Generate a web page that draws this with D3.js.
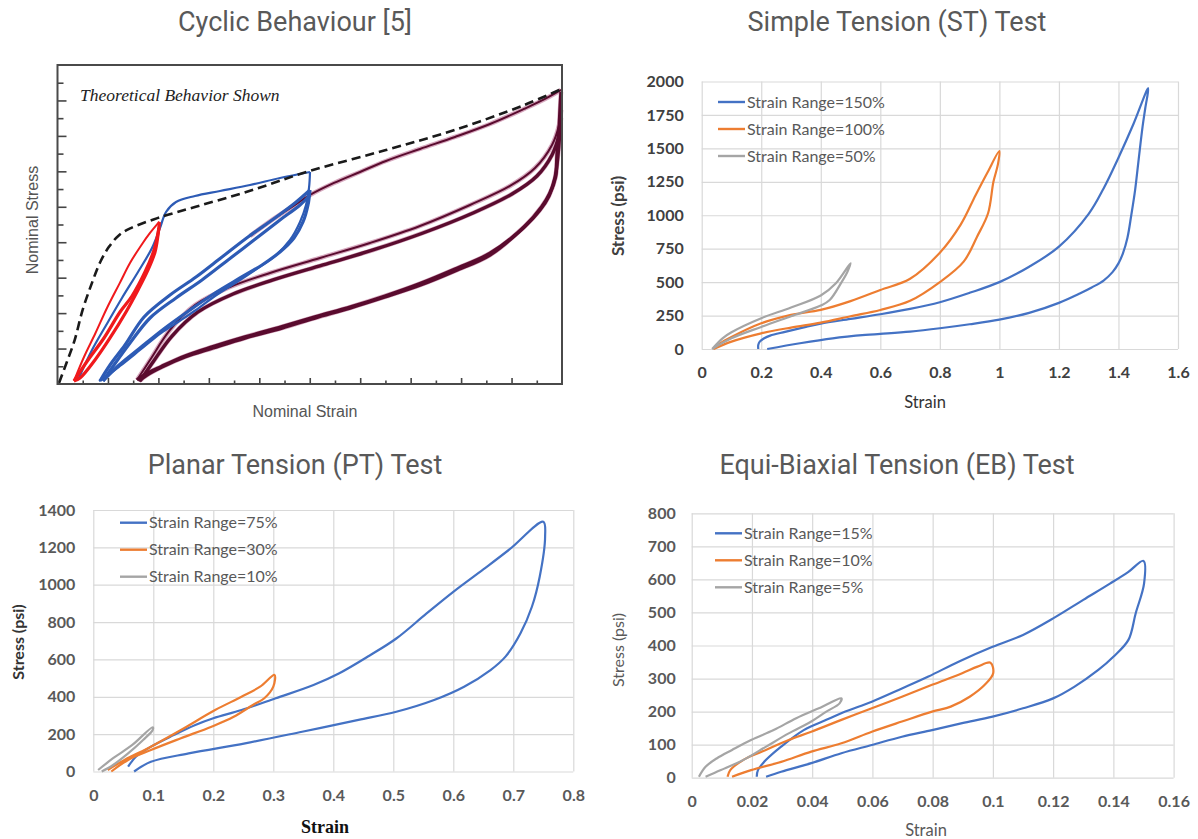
<!DOCTYPE html>
<html>
<head>
<meta charset="utf-8">
<script src="https://cdn.jsdelivr.net/npm/d3@7"></script>
<style>
  body { margin: 0; background: #fff; }
  svg { display: block; }
</style>
</head>
<body>
<svg id="fig" width="1198" height="839"></svg>
<script>
// ---------- panel titles ----------
const panelTitles = ["Cyclic Behaviour [5]", "Simple Tension (ST) Test", "Planar Tension (PT) Test", "Equi-Biaxial Tension (EB) Test"];

// ---------- cyclic behaviour sketch (arbitrary units: x 0-10, y 0-9) ----------
const cyMajorX = [1, 2, 3, 4, 5, 6, 7, 8, 9];
const cyMinorX = [0.5, 1.5, 2.5, 3.5, 4.5, 5.5, 6.5, 7.5, 8.5, 9.5];
const cyMajorY = [1, 2, 3, 4, 5, 6, 7, 8];
const cyMinorY = [0.5, 1.5, 2.5, 3.5, 4.5, 5.5, 6.5, 7.5, 8.5];

const cyEnvelope = [[0.03,0.03],[0.18,0.6],[0.34,1.24],[0.5,2.1],[0.68,2.84],[0.85,3.45],[1.02,3.87],[1.22,4.2],[1.44,4.39],[1.98,4.68],[2.74,5.0],[3.77,5.43],[5.0,6.01],[6.51,6.6],[7.88,7.17],[9.25,7.87],[10.0,8.33]];

const cyRedFirst = [[0.327,0.085],[0.525,0.762],[0.751,1.431],[0.981,2.144],[1.231,2.84],[1.437,3.414],[1.641,3.874],[1.834,4.261],[2.02,4.58]];
const cyRedUnload = [[2.02,4.571],[1.992,4.204],[1.933,3.725],[1.794,3.217],[1.596,2.652],[1.358,2.032],[1.041,1.298],[0.743,0.677],[0.446,0.169],[0.327,0.085]];
const cyRedReload = [[0.327,0.085],[0.605,0.677],[0.922,1.298],[1.239,2.032],[1.477,2.483],[1.734,3.16],[1.913,3.781],[2.012,4.402]];

const cyBlueFirst = [[0.406,0.113],[0.684,0.959],[1.001,1.749],[1.278,2.427],[1.596,3.16],[1.873,3.837],[2.032,4.402],[2.151,4.853],[2.349,5.135],[2.725,5.305],[3.221,5.446],[3.816,5.615],[4.41,5.813],[5.005,5.982]];
const cyBlueUnload = [[5.005,5.982],[4.985,5.53],[4.926,5.051],[4.807,4.571],[4.609,4.063],[4.311,3.612],[3.915,3.217],[3.617,2.935],[3.122,2.483],[2.745,2.088],[2.388,1.749],[2.052,1.439],[1.635,0.959],[1.239,0.508],[0.922,0.169],[0.823,0.085]];
const cyBlueReload = [[0.842,0.085],[1.041,0.536],[1.338,1.1],[1.715,1.891],[2.23,2.511],[2.745,3.019],[3.261,3.584],[3.776,4.148],[4.311,4.684],[4.707,5.107],[5.005,5.474]];
const cyBlueUnload2 = [[5.005,5.474],[4.965,5.051],[4.866,4.571],[4.688,4.12],[4.41,3.725],[4.054,3.358],[3.617,2.991],[3.122,2.568],[2.626,2.088],[2.131,1.58],[1.635,1.016],[1.199,0.508],[0.902,0.085]];
const cyBlueReload2 = [[0.902,0.085],[1.12,0.536],[1.437,1.157],[1.834,1.862],[2.349,2.427],[2.864,2.935],[3.38,3.499],[3.895,4.063],[4.41,4.628],[4.807,5.051],[5.005,5.333]];

const cyMaroonFirst = [[3.816,4.176],[4.311,4.684],[4.707,5.051],[5.005,5.333],[5.481,5.672],[5.996,5.982],[6.511,6.292],[7.185,6.631],[7.879,6.97],[8.573,7.336],[9.247,7.76],[9.663,8.042],[9.98,8.296]];
const cyMaroonUnload = [[9.98,8.24],[9.96,7.731],[9.941,7.167],[9.901,6.462],[9.873,5.849],[9.762,5.389],[9.598,5.003],[9.255,4.438],[8.573,3.688],[7.879,3.245],[7.197,2.841],[6.492,2.483],[5.826,2.181],[5.104,1.891],[4.45,1.617],[3.717,1.326],[3.082,1.052],[2.527,0.79],[2.052,0.488],[1.754,0.282],[1.576,0.113]];
const cyMaroonReload = [[1.576,0.113],[1.834,0.677],[2.23,1.524],[2.725,2.229],[3.419,2.737],[4.212,3.132],[5.203,3.555],[6.194,3.979],[7.185,4.458],[8.176,5.051],[8.969,5.587],[9.465,6.095],[9.802,6.744],[9.941,7.308],[9.98,7.731]];
const cyMaroonUnload2 = [[9.98,7.731],[9.96,7.167],[9.921,6.462],[9.861,5.813],[9.742,5.305],[9.564,4.91],[9.207,4.374],[8.573,3.64],[7.879,3.189],[7.197,2.793],[6.492,2.455],[5.798,2.144],[5.104,1.862],[4.45,1.58],[3.717,1.298],[3.082,1.016],[2.527,0.762],[2.071,0.48],[1.774,0.254],[1.615,0.085]];
const cyMaroonReload2 = [[1.635,0.085],[1.893,0.621],[2.27,1.354],[2.785,2.032],[3.479,2.54],[4.272,2.935],[5.263,3.358],[6.254,3.781],[7.245,4.261],[8.236,4.825],[9.009,5.361],[9.504,5.869],[9.802,6.462],[9.941,7.026],[9.98,7.506]];

// ---------- Simple Tension (strain, psi) ----------
const stXTicks = [0, 0.2, 0.4, 0.6, 0.8, 1, 1.2, 1.4, 1.6];
const stYTicks = [0, 250, 500, 750, 1000, 1250, 1500, 1750, 2000];
const stNames = ["Strain Range=150%", "Strain Range=100%", "Strain Range=50%"];
const stRange150 = [[0.19,0],[0.19,30],[0.195,55],[0.21,80],[0.23,100],[0.28,128],[0.35,165],[0.4,190],[0.5,225],[0.6,260],[0.7,300],[0.8,350],[0.9,420],[1.0,500],[1.1,615],[1.2,765],[1.3,1010],[1.35,1200],[1.4,1430],[1.45,1680],[1.5,1950],
  [1.49,1800],[1.481,1662],[1.468,1420],[1.456,1190],[1.443,1000],[1.43,830],[1.415,715],[1.4,640],[1.38,575],[1.35,512],[1.31,460],[1.27,415],[1.2,345],[1.1,270],[1.0,220],[0.9,185],[0.8,155],[0.7,130],[0.6,113],[0.55,105],[0.44,80],[0.33,43],[0.22,0]];
const stRange100 = [[0.038,0],[0.06,40],[0.1,90],[0.2,192],[0.3,255],[0.4,292],[0.5,358],[0.6,441],[0.7,525],[0.8,720],[0.87,930],[0.92,1150],[0.96,1320],[1.0,1480],
  [0.995,1380],[0.98,1250],[0.962,1015],[0.925,840],[0.88,653],[0.8,500],[0.7,360],[0.6,292],[0.5,245],[0.4,197],[0.3,160],[0.2,117],[0.1,55],[0.04,0]];
const stRange50 = [[0.035,0],[0.07,80],[0.1,125],[0.2,230],[0.3,310],[0.4,400],[0.45,490],[0.5,641],
  [0.49,580],[0.47,500],[0.43,366],[0.4,325],[0.3,245],[0.2,165],[0.1,80],[0.035,0]];

// ---------- Planar Tension ----------
const ptXTicks = [0, 0.1, 0.2, 0.3, 0.4, 0.5, 0.6, 0.7, 0.8];
const ptYTicks = [0, 200, 400, 600, 800, 1000, 1200, 1400];
const ptNames = ["Strain Range=75%", "Strain Range=30%", "Strain Range=10%"];
const ptRange75 = [[0.058,26],[0.071,79],[0.096,133],[0.134,195],[0.17,249],[0.2,285],[0.247,329],[0.304,392],[0.367,463],[0.41,526],[0.46,620],[0.505,712],[0.555,845],[0.6,962],[0.65,1082],[0.694,1190],[0.75,1337],
  [0.753,1257],[0.744,1043],[0.731,882],[0.712,740],[0.687,615],[0.662,543],[0.618,454],[0.568,383],[0.505,320],[0.442,276],[0.348,213],[0.253,151],[0.159,97],[0.096,52],[0.068,0]];
const ptRange30 = [[0.024,8],[0.052,62],[0.096,133],[0.146,222],[0.203,329],[0.247,400],[0.278,454],[0.302,517],
  [0.3,454],[0.285,392],[0.266,356],[0.234,293],[0.197,240],[0.146,178],[0.096,115],[0.058,62],[0.03,0]];
const ptRange10 = [[0.008,8],[0.033,71],[0.065,142],[0.099,237],[0.099,222],[0.083,169],[0.058,97],[0.033,35],[0.014,0]];

// ---------- Equi-Biaxial Tension ----------
const ebXTicks = [0, 0.02, 0.04, 0.06, 0.08, 0.1, 0.12, 0.14, 0.16];
const ebYTicks = [0, 100, 200, 300, 400, 500, 600, 700, 800];
const ebNames = ["Strain Range=15%", "Strain Range=10%", "Strain Range=5%"];
const ebRange15 = [[0.0216,3],[0.022,23],[0.0247,54],[0.0297,94],[0.0372,144],[0.0447,175],[0.051,200],[0.0598,230],[0.0698,270],[0.0786,306],[0.0886,351],[0.0999,396],[0.11,432],[0.12,482],[0.13,538],[0.139,588],[0.145,623],[0.15,656],
  [0.1502,588],[0.1474,497],[0.145,417],[0.14,366],[0.135,326],[0.127,275],[0.12,240],[0.11,210],[0.0999,185],[0.0898,165],[0.0798,144],[0.0698,124],[0.0598,99],[0.0497,74],[0.0397,44],[0.0297,18],[0.0247,3]];
const ebRange10 = [[0.0119,3],[0.0128,23],[0.0172,54],[0.0234,79],[0.0322,114],[0.0397,139],[0.0497,175],[0.0598,210],[0.0698,245],[0.0798,281],[0.0898,316],[0.0949,336],[0.0992,348],
  [0.1001,316],[0.0973,281],[0.0923,245],[0.086,215],[0.0798,200],[0.0698,170],[0.0598,139],[0.0497,104],[0.0397,79],[0.0297,48],[0.0197,23],[0.0134,3]];
const ebRange5 = [[0.0024,3],[0.0046,33],[0.0084,59],[0.0134,84],[0.0197,114],[0.0272,144],[0.0347,180],[0.0422,210],[0.0497,240],
  [0.0491,225],[0.0447,200],[0.0397,170],[0.0322,134],[0.0247,94],[0.0172,54],[0.0097,23],[0.0046,3]];

const excelColors = ["#4472c4", "#ed7d31", "#a5a5a5"];

const svg = d3.select("#fig");
svg.append("rect").attr("width", 1198).attr("height", 839).attr("fill", "#fff");

// titles
const titlePos = [[295, 31], [897, 31], [295, 474], [897, 474]];
svg.selectAll("text.title")
    .data(panelTitles)
    .join("text")
    .attr("class", "title")
    .attr("x", (d, i) => titlePos[i][0])
    .attr("y", (d, i) => titlePos[i][1])
    .attr("text-anchor", "middle")
    .attr("font-family", "Roboto, 'Open Sans', sans-serif")
    .attr("font-size", 27)
    .attr("fill", "#595959")
    .text(d => d);

// ---------- cyclic panel ----------
function drawCyclic() {
    const x = d3.scaleLinear().domain([0, 10]).range([57.5, 562]);
    const y = d3.scaleLinear().domain([0, 9]).range([384, 65]);
    const g = svg.append("g");

    const line = d3.line()
        .x(d => x(d[0]))
        .y(d => y(d[1]))
        .curve(d3.curveCatmullRom.alpha(0.5));

    const maroon = [cyMaroonFirst, cyMaroonUnload, cyMaroonReload, cyMaroonUnload2, cyMaroonReload2];
    const blue = [cyBlueFirst, cyBlueUnload, cyBlueReload, cyBlueUnload2, cyBlueReload2];
    const red = [cyRedFirst, cyRedUnload, cyRedReload];

    // light halo under the maroon loops
    g.selectAll("path.maroonHalo")
        .data(maroon)
        .join("path")
        .attr("class", "maroonHalo")
        .attr("d", line)
        .attr("fill", "none")
        .attr("stroke", "#d7a9bf")
        .attr("stroke-width", 4.5);

    g.selectAll("path.maroon")
        .data(maroon)
        .join("path")
        .attr("class", "maroon")
        .attr("d", line)
        .attr("fill", "none")
        .attr("stroke", "#5a0b2e")
        .attr("stroke-width", (d, i) => (i === 1 || i === 3 || i === 4) ? 3.4 : 2);

    g.selectAll("path.blue")
        .data(blue)
        .join("path")
        .attr("class", "blue")
        .attr("d", line)
        .attr("fill", "none")
        .attr("stroke", "#2d5bb5")
        .attr("stroke-width", (d, i) => i >= 2 ? 3.2 : 2.2);

    g.selectAll("path.red")
        .data(red)
        .join("path")
        .attr("class", "red")
        .attr("d", line)
        .attr("fill", "none")
        .attr("stroke", "#f0191c")
        .attr("stroke-width", (d, i) => i >= 1 ? 3.2 : 2);

    g.append("path")
        .datum(cyEnvelope)
        .attr("d", line)
        .attr("fill", "none")
        .attr("stroke", "#1a1a1a")
        .attr("stroke-width", 2.6)
        .attr("stroke-dasharray", "9,5");

    // inward ticks
    const ticks = [
        { axis: d3.axisBottom(x).tickValues(cyMajorX).tickSize(-6), tr: `translate(0,${y(0)})` },
        { axis: d3.axisBottom(x).tickValues(cyMinorX).tickSize(-3.5), tr: `translate(0,${y(0)})` },
        { axis: d3.axisLeft(y).tickValues(cyMajorY).tickSize(-9), tr: `translate(${x(0)},0)` },
        { axis: d3.axisLeft(y).tickValues(cyMinorY).tickSize(-6), tr: `translate(${x(0)},0)` }
    ];
    ticks.forEach(t => {
        const a = g.append("g").attr("transform", t.tr).call(t.axis.tickFormat(""));
        a.select(".domain").remove();
        a.selectAll(".tick line").attr("stroke", "#444").attr("stroke-width", 1.6);
    });

    g.append("rect")
        .attr("x", x(0)).attr("y", y(9))
        .attr("width", x(10) - x(0)).attr("height", y(0) - y(9))
        .attr("fill", "none")
        .attr("stroke", "#4a4a4a")
        .attr("stroke-width", 2);

    g.append("text")
        .attr("x", 80).attr("y", 101)
        .attr("font-family", "'Liberation Serif', 'DejaVu Serif', serif")
        .attr("font-style", "italic")
        .attr("font-size", 17.5)
        .attr("fill", "#222")
        .text("Theoretical Behavior Shown");

    g.append("text")
        .attr("x", 305).attr("y", 417)
        .attr("text-anchor", "middle")
        .attr("font-family", "'Liberation Sans', Arial, sans-serif")
        .attr("font-size", 16)
        .attr("fill", "#555")
        .text("Nominal Strain");

    g.append("text")
        .attr("transform", "translate(38,220) rotate(-90)")
        .attr("text-anchor", "middle")
        .attr("font-family", "'Liberation Sans', Arial, sans-serif")
        .attr("font-size", 16)
        .attr("fill", "#555")
        .text("Nominal Stress");
}

// ---------- Excel-style panels ----------
function excelPanel(cfg) {
    const x = d3.scaleLinear()
        .domain([cfg.xTicks[0], cfg.xTicks[cfg.xTicks.length - 1]])
        .range([cfg.left, cfg.right]);
    const y = d3.scaleLinear()
        .domain([cfg.yTicks[0], cfg.yTicks[cfg.yTicks.length - 1]])
        .range([cfg.bottom, cfg.top]);
    const g = svg.append("g");

    const yAxis = g.append("g")
        .attr("transform", `translate(${cfg.left},0)`)
        .call(d3.axisLeft(y).tickValues(cfg.yTicks).tickSize(-(cfg.right - cfg.left)).tickPadding(cfg.padY).tickFormat(String));
    const xAxis = g.append("g")
        .attr("transform", `translate(0,${cfg.bottom})`)
        .call(d3.axisBottom(x).tickValues(cfg.xTicks).tickSize(-(cfg.bottom - cfg.top)).tickPadding(18).tickFormat(String));

    [xAxis, yAxis].forEach(a => {
        a.select(".domain").remove();
        a.selectAll(".tick line").attr("stroke", "#d9d9d9").attr("stroke-width", 1.2);
        a.selectAll(".tick text")
            .attr("font-family", "Lato, 'Open Sans', sans-serif")
            .attr("font-weight", "bold")
            .attr("font-size", 16)
            .attr("fill", cfg.tickColor);
    });

    const line = d3.line()
        .x(d => x(d[0]))
        .y(d => y(d[1]))
        .curve(d3.curveCatmullRom.alpha(0.5));

    g.selectAll("path.series")
        .data(cfg.series)
        .join("path")
        .attr("class", "series")
        .attr("d", line)
        .attr("fill", "none")
        .attr("stroke", (d, i) => excelColors[i])
        .attr("stroke-width", 2.2)
        .attr("stroke-linejoin", "round");

    // legend
    const lg = g.append("g");
    cfg.names.forEach((name, i) => {
        const ly = cfg.legendY + i * 27;
        lg.append("line")
            .attr("x1", cfg.legendX).attr("x2", cfg.legendX + 27)
            .attr("y1", ly).attr("y2", ly)
            .attr("stroke", excelColors[i])
            .attr("stroke-width", 2.4);
        lg.append("text")
            .attr("x", cfg.legendX + 29).attr("y", ly)
            .attr("dy", "0.35em")
            .attr("font-family", "Lato, 'Open Sans', sans-serif")
            .attr("font-size", 16)
            .attr("fill", "#595959")
            .text(name);
    });

    g.append("text")
        .attr("transform", `translate(${cfg.yTitle[0]},${cfg.yTitle[1]}) rotate(-90)`)
        .attr("text-anchor", "middle")
        .attr("dy", "0.35em")
        .attr("font-family", "Lato, 'Open Sans', sans-serif")
        .attr("font-weight", cfg.yTitleWeight)
        .attr("font-size", cfg.yTitleSize)
        .attr("fill", cfg.yTitleColor)
        .text("Stress (psi)");

    g.append("text")
        .attr("x", cfg.xTitle[0]).attr("y", cfg.xTitle[1])
        .attr("text-anchor", "middle")
        .attr("dy", "0.35em")
        .attr("font-family", cfg.xTitleFont)
        .attr("font-weight", cfg.xTitleWeight)
        .attr("font-size", cfg.xTitleSize)
        .attr("fill", cfg.xTitleColor)
        .text("Strain");
}

drawCyclic();

excelPanel({
    left: 701.7, right: 1178, top: 81.5, bottom: 349,
    xTicks: stXTicks, yTicks: stYTicks, padY: 18,
    series: [stRange150, stRange100, stRange50], names: stNames,
    legendX: 718, legendY: 102,
    tickColor: "#404040",
    yTitle: [618, 216], yTitleWeight: "bold", yTitleColor: "#404040", yTitleSize: 17,
    xTitle: [925, 402], xTitleFont: "Lato, 'Open Sans', sans-serif", xTitleWeight: "normal", xTitleSize: 16.5, xTitleColor: "#333"
});

excelPanel({
    left: 93.3, right: 573.3, top: 510, bottom: 771.5,
    xTicks: ptXTicks, yTicks: ptYTicks, padY: 18,
    series: [ptRange75, ptRange30, ptRange10], names: ptNames,
    legendX: 120, legendY: 522.7,
    tickColor: "#595959",
    yTitle: [18, 642], yTitleWeight: "bold", yTitleColor: "#333", yTitleSize: 16,
    xTitle: [325, 827], xTitleFont: "'Liberation Serif', 'Times New Roman', serif", xTitleWeight: "bold", xTitleSize: 18, xTitleColor: "#111"
});

excelPanel({
    left: 691.7, right: 1173.6, top: 513.3, bottom: 777.7,
    xTicks: ebXTicks, yTicks: ebYTicks, padY: 16,
    series: [ebRange15, ebRange10, ebRange5], names: ebNames,
    legendX: 715, legendY: 533.3,
    tickColor: "#595959",
    yTitle: [618, 650], yTitleWeight: "normal", yTitleColor: "#595959", yTitleSize: 16,
    xTitle: [926, 830], xTitleFont: "Lato, 'Open Sans', sans-serif", xTitleWeight: "normal", xTitleSize: 16.5, xTitleColor: "#595959"
});
</script>
</body>
</html>
